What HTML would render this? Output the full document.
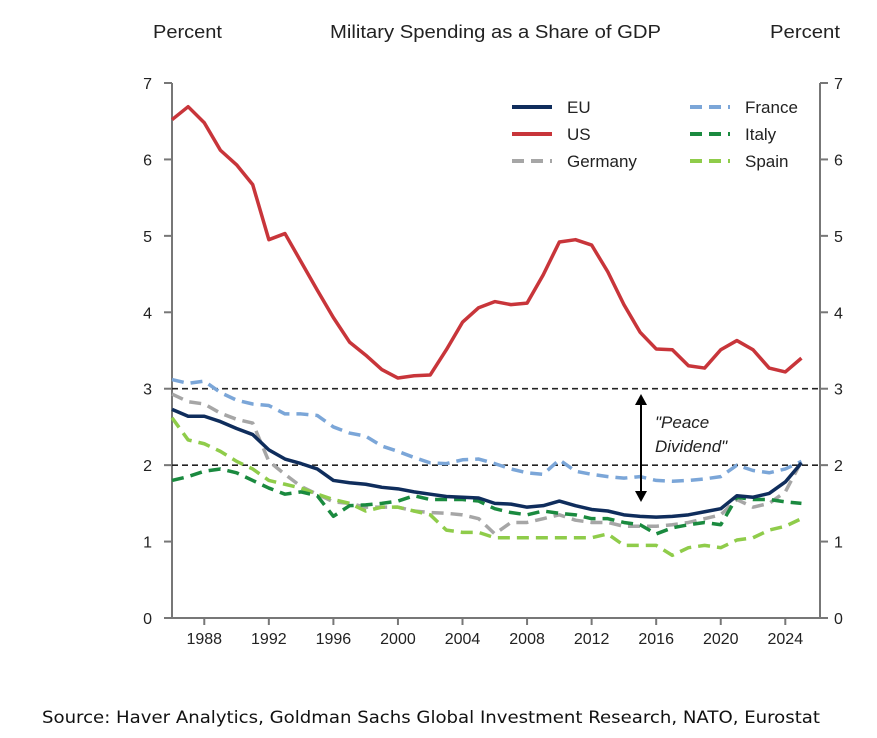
<!DOCTYPE html>
<html><head><meta charset="utf-8"><style>
body{margin:0;background:#fff;width:877px;height:733px;overflow:hidden}
svg{font-family:"Liberation Sans",Arial,sans-serif}
</style></head><body>
<svg id="chart" width="877" height="733">
<text x="153" y="38" font-size="18" fill="#222" textLength="69" lengthAdjust="spacingAndGlyphs">Percent</text>
<text x="330" y="38" font-size="18" fill="#222" textLength="331" lengthAdjust="spacingAndGlyphs">Military Spending as a Share of GDP</text>
<text x="770" y="38" font-size="18" fill="#222" textLength="70" lengthAdjust="spacingAndGlyphs">Percent</text>
<g id="axes"></g>
<g id="series"></g>
<g>
<line x1="641" y1="402" x2="641" y2="494" stroke="#000" stroke-width="2"/>
<polygon points="641,394 635,405 647,405" fill="#000"/>
<polygon points="641,502 635,491 647,491" fill="#000"/>
<text x="655" y="428" font-size="17" font-style="italic" fill="#222">"Peace</text>
<text x="655" y="452" font-size="17" font-style="italic" fill="#222">Dividend"</text>
</g>
<g id="legend"></g>
<text x="42" y="723" font-size="17" fill="#111" font-family="DejaVu Sans, sans-serif" textLength="778" lengthAdjust="spacingAndGlyphs">Source: Haver Analytics, Goldman Sachs Global Investment Research, NATO, Eurostat</text>
</svg>
<script>
const years=[];for(let y=1986;y<=2025;y++)years.push(y);
const us=[6.52,6.69,6.48,6.12,5.93,5.67,4.95,5.03,4.66,4.29,3.93,3.61,3.44,3.25,3.14,3.17,3.18,3.51,3.87,4.06,4.14,4.10,4.12,4.49,4.92,4.95,4.88,4.53,4.10,3.74,3.52,3.51,3.30,3.27,3.51,3.63,3.51,3.27,3.22,3.40];
const eu=[2.73,2.64,2.64,2.57,2.48,2.40,2.20,2.08,2.02,1.95,1.80,1.77,1.75,1.71,1.69,1.65,1.62,1.59,1.58,1.57,1.50,1.49,1.45,1.47,1.53,1.47,1.42,1.40,1.35,1.33,1.32,1.33,1.35,1.39,1.43,1.60,1.58,1.63,1.78,2.03];
const france=[3.12,3.07,3.10,2.95,2.85,2.80,2.78,2.67,2.67,2.65,2.50,2.42,2.38,2.25,2.18,2.10,2.03,2.02,2.07,2.08,2.02,1.95,1.90,1.88,2.07,1.92,1.88,1.85,1.83,1.85,1.80,1.79,1.80,1.82,1.85,2.00,1.93,1.90,1.95,2.05];
const germany=[2.93,2.83,2.80,2.68,2.60,2.55,2.05,1.88,1.72,1.62,1.52,1.50,1.45,1.45,1.45,1.40,1.38,1.37,1.35,1.30,1.10,1.25,1.25,1.30,1.35,1.28,1.25,1.25,1.20,1.20,1.20,1.22,1.25,1.30,1.35,1.55,1.45,1.50,1.65,2.05];
const italy=[1.80,1.85,1.92,1.95,1.90,1.80,1.70,1.62,1.65,1.60,1.33,1.47,1.48,1.50,1.53,1.60,1.55,1.55,1.55,1.53,1.43,1.38,1.35,1.40,1.37,1.35,1.30,1.30,1.25,1.22,1.10,1.18,1.22,1.25,1.22,1.58,1.55,1.55,1.52,1.50];
const spain=[2.62,2.33,2.28,2.18,2.05,1.95,1.80,1.75,1.70,1.62,1.55,1.50,1.40,1.45,1.45,1.40,1.35,1.15,1.12,1.12,1.05,1.05,1.05,1.05,1.05,1.05,1.05,1.10,0.95,0.95,0.95,0.82,0.92,0.95,0.92,1.02,1.05,1.15,1.20,1.30];
const yTicks=[0,1,2,3,4,5,6,7];
const xTicks=[1988,1992,1996,2000,2004,2008,2012,2016,2020,2024];
const refLines=[2,3];
const L=172,R=820,T=83,B=618,X0=1986,X1=2026.15;
const sx=v=>L+(v-X0)*(R-L)/(X1-X0);
const sy=v=>B-v*(B-T)/7;
const NS="http://www.w3.org/2000/svg";
function mk(tag,attrs,parent){const e=document.createElementNS(NS,tag);for(const k in attrs)e.setAttribute(k,attrs[k]);parent.appendChild(e);return e;}
const ax=document.getElementById('axes');
const g1=mk('line',{x1:L,y1:T,x2:L,y2:B,stroke:'#777','stroke-width':2},ax);


const g2=mk('line',{x1:R,y1:T,x2:R,y2:B,stroke:'#777','stroke-width':2},ax);


const g3=mk('line',{x1:L,y1:B,x2:R,y2:B,stroke:'#777','stroke-width':2},ax);


yTicks.forEach(v=>{
 mk('line',{x1:L-8,y1:sy(v),x2:L,y2:sy(v),stroke:'#777','stroke-width':2},ax);
 mk('line',{x1:R,y1:sy(v),x2:R+8,y2:sy(v),stroke:'#777','stroke-width':2},ax);
 const t=mk('text',{x:152,y:sy(v)+6,'font-size':16,'text-anchor':'end',fill:'#222'},ax);t.textContent=v;
 
 
 const t2=mk('text',{x:834,y:sy(v)+6,'font-size':16,fill:'#222'},ax);t2.textContent=v;
 
 
});
xTicks.forEach(v=>{
 mk('line',{x1:sx(v),y1:B,x2:sx(v),y2:B+7,stroke:'#777','stroke-width':2},ax);
 const t=mk('text',{x:sx(v),y:B+26,'font-size':16,'text-anchor':'middle',fill:'#222'},ax);t.textContent=v;
 
 
});
refLines.forEach(v=>{
 const l=mk('line',{x1:L,y1:sy(v),x2:R,y2:sy(v),stroke:'#222','stroke-width':1.6,'stroke-dasharray':'6,4'},ax);
 
 
});
const sg=document.getElementById('series');
const series=[
 {name:'germany',d:germany,c:'#a6a6a6',dash:'12,7',w:3.5},
 {name:'spain',d:spain,c:'#8fcc4a',dash:'12,7',w:3.5},
 {name:'italy',d:italy,c:'#1a8a3f',dash:'12,7',w:3.5},
 {name:'france',d:france,c:'#7ba6d8',dash:'12,7',w:3.5},
 {name:'eu',d:eu,c:'#0f2d5c',dash:'',w:3.5},
 {name:'us',d:us,c:'#c8353a',dash:'',w:3.5}
];
series.forEach(s=>{
 const p=mk('polyline',{points:s.d.map((v,i)=>sx(years[i])+','+sy(v)).join(' '),fill:'none',stroke:s.c,'stroke-width':s.w,'stroke-dasharray':s.dash,'stroke-linejoin':'round'},sg);
 
 
});
const lg=document.getElementById('legend');
const leg=[['EU','#0f2d5c','',512,107],['US','#c8353a','',512,134],['Germany','#a6a6a6','12,7',512,161],['France','#7ba6d8','12,7',690,107],['Italy','#1a8a3f','12,7',690,134],['Spain','#8fcc4a','12,7',690,161]];
leg.forEach(e=>{
 const g=mk('g',{},lg);
 
 
 mk('line',{x1:e[3],y1:e[4],x2:e[3]+40,y2:e[4],stroke:e[1],'stroke-width':4,'stroke-dasharray':e[2]},g);
 const t=mk('text',{x:e[3]+55,y:e[4]+6,'font-size':17,fill:'#222'},g);t.textContent=e[0];
});
</script>
</body></html>
